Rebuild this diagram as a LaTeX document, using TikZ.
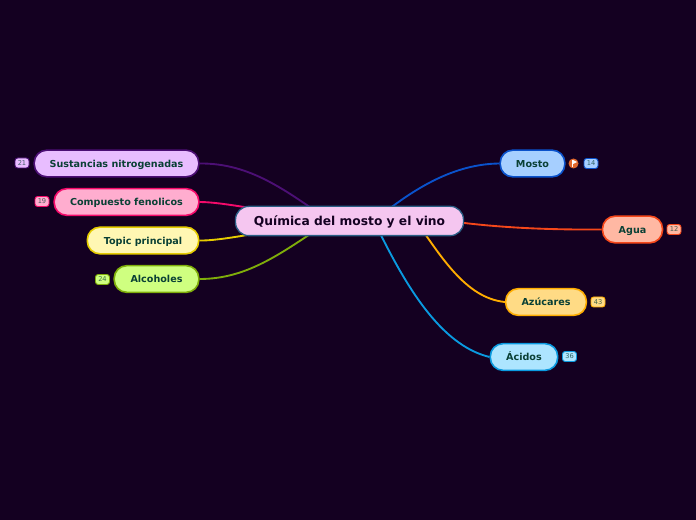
\documentclass[tikz,border=0pt]{standalone}
\usepackage{fontspec}
\setmainfont{DejaVu Sans}
\usetikzlibrary{positioning}
\definecolor{nightbg}{HTML}{140021}
\definecolor{inkgreen}{HTML}{0A4035}
\definecolor{mainfill}{HTML}{F5C6F0}
\definecolor{mainline}{HTML}{2A5F85}
\definecolor{sustfill}{HTML}{E8BDFF}
\definecolor{sustline}{HTML}{4C0F75}
\definecolor{compfill}{HTML}{FFADCF}
\definecolor{compline}{HTML}{F50A6B}
\definecolor{topifill}{HTML}{FFF7B3}
\definecolor{topiline}{HTML}{E6CC00}
\definecolor{alcofill}{HTML}{CFFF80}
\definecolor{alcoline}{HTML}{7FAD0A}
\definecolor{mostfill}{HTML}{A6CFFF}
\definecolor{mostline}{HTML}{0A52CC}
\definecolor{aguafill}{HTML}{FFB8A3}
\definecolor{agualine}{HTML}{F5471A}
\definecolor{azucfill}{HTML}{FFDB85}
\definecolor{azucline}{HTML}{FFAD00}
\definecolor{acidfill}{HTML}{ADE5FF}
\definecolor{acidline}{HTML}{0A9AE0}
\definecolor{markfill}{HTML}{E2682C}
\tikzset{
  topicbox/.style={draw=#1line, fill=#1fill, line width=1.2pt, rounded corners=9.5pt, inner sep=0pt,
    minimum height=20pt, text height=7pt, text depth=1.2pt,
    text=inkgreen, font=\bfseries\fontsize{7.2}{9}\selectfont},
  badge/.style={draw=#1line, fill=#1fill, line width=0.7pt, rounded corners=2pt, inner sep=0pt,
    minimum width=10.5pt, minimum height=7.5pt, text=inkgreen!75!#1fill, font=\fontsize{5}{6}\selectfont},
  link/.style={draw=#1line, line width=1.4pt},
}
\begin{document}
\begin{tikzpicture}[x=0.75pt, y=-0.75pt]
% Background
\fill[nightbg] (0,0) rectangle (696,520);
\coordinate (hubleft) at (330,221);
\coordinate (hubright) at (374,221);
\coordinate (hubfar) at (412,215);

% Left side topics
\node[topicbox=sust, minimum width=123.5pt] (sust) at (116.5,163.5) {Sustancias nitrogenadas};
\node[topicbox=comp, minimum width=108.5pt] (comp) at (126.5,202) {Compuesto fenolicos};
\node[topicbox=topi, minimum width=83.5pt] (topi) at (143,240.5) {Topic principal};
\node[topicbox=alco, minimum width=63.5pt] (alco) at (156.5,279) {Alcoholes};

% Right side topics
\node[topicbox=most, minimum width=48.5pt] (most) at (532.5,163.5) {Mosto};
\node[topicbox=agua, minimum width=45pt] (agua) at (632.5,229.5) {Agua};
\node[topicbox=azuc, minimum width=60.5pt] (azuc) at (546,302) {Azúcares};
\node[topicbox=acid, minimum width=50.5pt] (acid) at (524,357) {Ácidos};

% Badges
\node[badge=sust] (b21) at (22,163) {21};
\node[badge=comp] (b19) at (42,201.5) {19};
\node[badge=alco] (b24) at (102.5,279.5) {24};
\node[badge=most] (b14) at (591,163.5) {14};
\node[badge=agua] (b12) at (674,229.5) {12};
\node[badge=azuc] (b43) at (598,302) {43};
\node[badge=acid] (b36) at (569.5,356.5) {36};

% Icon next to Mosto
\node[circle, fill=markfill, inner sep=0pt, minimum size=7.5pt] (mark) at (573.5,163.5) {};
\fill[white] (572,160) rectangle (573.2,167);
\fill[white] (573.2,160) -- (577,162) -- (573.2,164) -- cycle;

% Connectors
\draw[link=sust] (sust.east) .. controls (250,163) and (285,190) .. (hubleft);
\draw[link=comp] (comp.east) .. controls (225,202) and (280,214) .. (hubleft);
\draw[link=topi] (topi.east) .. controls (225,241) and (280,228) .. (hubleft);
\draw[link=alco] (alco.east) .. controls (250,279) and (285,250) .. (hubleft);
\draw[link=most] (most.west) .. controls (455,164) and (415,187) .. (hubright);
\draw[link=agua] (agua.west) .. controls (530,230) and (470,226) .. (hubfar);
\draw[link=azuc] (azuc.west) .. controls (465,298) and (440,255) .. (hubfar);
\draw[link=acid] (acid.west) .. controls (440,345) and (405,285) .. (hubright);

% Central topic
\node[draw=mainline, fill=mainfill, line width=1pt, rounded corners=10pt, minimum width=171pt, minimum height=22pt,
  inner sep=0pt, text height=8pt, text depth=1.8pt, text=nightbg, font=\bfseries\fontsize{9.2}{11}\selectfont] (main) at (349.5,221) {Química del mosto y el vino};
\end{tikzpicture}
\end{document}
